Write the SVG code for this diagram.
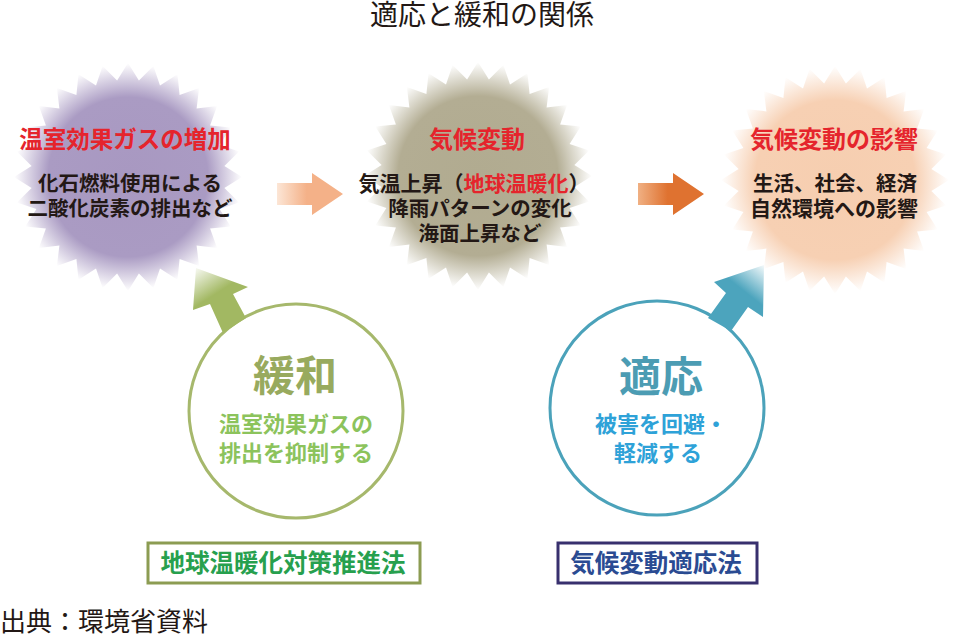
<svg xmlns="http://www.w3.org/2000/svg" xmlns:xlink="http://www.w3.org/1999/xlink" width="963" height="636" viewBox="0 0 963 636">
<style>
text{font-family:"Noto Sans CJK JP","Noto Sans",sans-serif;}
.b{font-weight:700;}
.red{fill:#e5242c;}
.dk{fill:#231815;}
.mid{text-anchor:middle;}
</style>
<defs>
<polygon id="star" points="0,-114 10.9,-96.4 25.4,-111.1 32,-91.6 49.5,-102.7 51.6,-82.1 71.1,-89.1 68.6,-68.6 89.1,-71.1 82.1,-51.6 102.7,-49.5 91.6,-32 111.1,-25.4 96.4,-10.9 114,0 96.4,10.9 111.1,25.4 91.6,32 102.7,49.5 82.1,51.6 89.1,71.1 68.6,68.6 71.1,89.1 51.6,82.1 49.5,102.7 32,91.6 25.4,111.1 10.9,96.4 0,114 -10.9,96.4 -25.4,111.1 -32,91.6 -49.5,102.7 -51.6,82.1 -71.1,89.1 -68.6,68.6 -89.1,71.1 -82.1,51.6 -102.7,49.5 -91.6,32 -111.1,25.4 -96.4,10.9 -114,0 -96.4,-10.9 -111.1,-25.4 -91.6,-32 -102.7,-49.5 -82.1,-51.6 -89.1,-71.1 -68.6,-68.6 -71.1,-89.1 -51.6,-82.1 -49.5,-102.7 -32,-91.6 -25.4,-111.1 -10.9,-96.4"/>
<radialGradient id="g1" cx="0.5" cy="0.5" r="0.5">
<stop offset="0" stop-color="#a898c1"/>
<stop offset="0.7" stop-color="#aa9bc3"/>
<stop offset="1" stop-color="#ffffff"/>
</radialGradient>
<radialGradient id="g2" cx="0.5" cy="0.5" r="0.5">
<stop offset="0" stop-color="#b1ab90"/>
<stop offset="0.7" stop-color="#b3ad93"/>
<stop offset="1" stop-color="#ffffff"/>
</radialGradient>
<radialGradient id="g3" cx="0.5" cy="0.5" r="0.5">
<stop offset="0" stop-color="#f6ceb0"/>
<stop offset="0.7" stop-color="#f7d0b3"/>
<stop offset="1" stop-color="#ffffff"/>
</radialGradient>
<linearGradient id="a1" x1="0" y1="0" x2="1" y2="0">
<stop offset="0" stop-color="#fce6d6"/>
<stop offset="0.45" stop-color="#f4b188"/>
<stop offset="1" stop-color="#f4b188"/>
</linearGradient>
<linearGradient id="a2" x1="0" y1="0" x2="1" y2="0">
<stop offset="0" stop-color="#f0b083"/>
<stop offset="0.45" stop-color="#df7230"/>
<stop offset="1" stop-color="#df7230"/>
</linearGradient>
<linearGradient id="ag" gradientUnits="userSpaceOnUse" x1="236" y1="332" x2="194" y2="266">
<stop offset="0" stop-color="#a2b862"/>
<stop offset="0.55" stop-color="#a2b862"/>
<stop offset="1" stop-color="#ffffff"/>
</linearGradient>
<linearGradient id="ab" gradientUnits="userSpaceOnUse" x1="718" y1="325" x2="766" y2="264">
<stop offset="0" stop-color="#4ca4bd"/>
<stop offset="0.55" stop-color="#4ca4bd"/>
<stop offset="1" stop-color="#ffffff"/>
</linearGradient>
</defs>
<rect width="963" height="636" fill="#ffffff"/>
<text class="dk mid" x="482" y="25" font-size="28">適応と緩和の関係</text>

<g id="node-ghg">
<use xlink:href="#star" href="#star" fill="url(#g1)" transform="translate(128,177)"/>
<text class="b red mid" x="125" y="148" font-size="23.5">温室効果ガスの増加</text>
<text class="b dk mid" x="130" y="191" font-size="20.5">化石燃料使用による</text>
<text class="b dk mid" x="130" y="216" font-size="20.5">二酸化炭素の排出など</text>
</g>

<g id="node-climate">
<use xlink:href="#star" href="#star" fill="url(#g2)" transform="translate(478,176)"/>
<text class="b red mid" x="477" y="148" font-size="24">気候変動</text>
<text class="b dk mid" x="474" y="191" font-size="21">気温上昇（<tspan class="red">地球温暖化</tspan>）</text>
<text class="b dk mid" x="480" y="216" font-size="20.5">降雨パターンの変化</text>
<text class="b dk mid" x="480" y="241" font-size="20.5">海面上昇など</text>
</g>

<g id="node-impact">
<use xlink:href="#star" href="#star" fill="url(#g3)" transform="translate(835,180)"/>
<text class="b red mid" x="834" y="148" font-size="24">気候変動の影響</text>
<text class="b dk mid" x="835" y="191" font-size="20.5">生活、社会、経済</text>
<text class="b dk mid" x="834" y="216" font-size="21">自然環境への影響</text>
</g>

<g id="node-mitigation">
<circle cx="296" cy="411" r="107" fill="#ffffff" stroke="#a6b86c" stroke-width="3"/>
<text class="b mid" x="295" y="391" font-size="42" fill="#98aa5e">緩和</text>
<text class="b mid" x="296" y="432" font-size="22" fill="#8cc35c">温室効果ガスの</text>
<text class="b mid" x="296" y="461" font-size="22" fill="#8cc35c">排出を抑制する</text>
</g>

<g id="node-adaptation">
<circle cx="657" cy="408" r="107" fill="#ffffff" stroke="#4ba2ba" stroke-width="3"/>
<text class="b mid" x="661" y="392" font-size="42" fill="#4c9cb3">適応</text>
<text class="b mid" x="661" y="432" font-size="22" fill="#2ea2d8">被害を回避・</text>
<text class="b mid" x="658" y="461" font-size="22" fill="#2ea2d8">軽減する</text>
</g>

<g id="node-law-mitigation">
<rect x="148" y="543" width="272" height="40" fill="#ffffff" stroke="#8c9c52" stroke-width="3"/>
<text class="b mid" x="283" y="572" font-size="24.5" fill="#27a04e">地球温暖化対策推進法</text>
</g>

<g id="node-law-adaptation">
<rect x="558" y="543" width="199" height="40" fill="#ffffff" stroke="#38306e" stroke-width="3"/>
<text class="b mid" x="656" y="572" font-size="24.5" fill="#2a4b92">気候変動適応法</text>
</g>

<g id="connectors">
<polygon points="277,183 312,183 312,173 343,194 312,215 312,205 277,205" fill="url(#a1)"/>
<polygon points="638,183 673,183 673,173 704,194 673,215 673,205 638,205" fill="url(#a2)"/>
<polygon points="196,268 248,287 233,294 246,318 223,333 210,304 193,310" fill="url(#ag)"/>
<polygon points="764,265 763,317 748,307 731,331 708,318 726,293 714,282" fill="url(#ab)"/>
</g>

<text class="dk" x="0" y="631" font-size="26">出典：環境省資料</text>
</svg>
